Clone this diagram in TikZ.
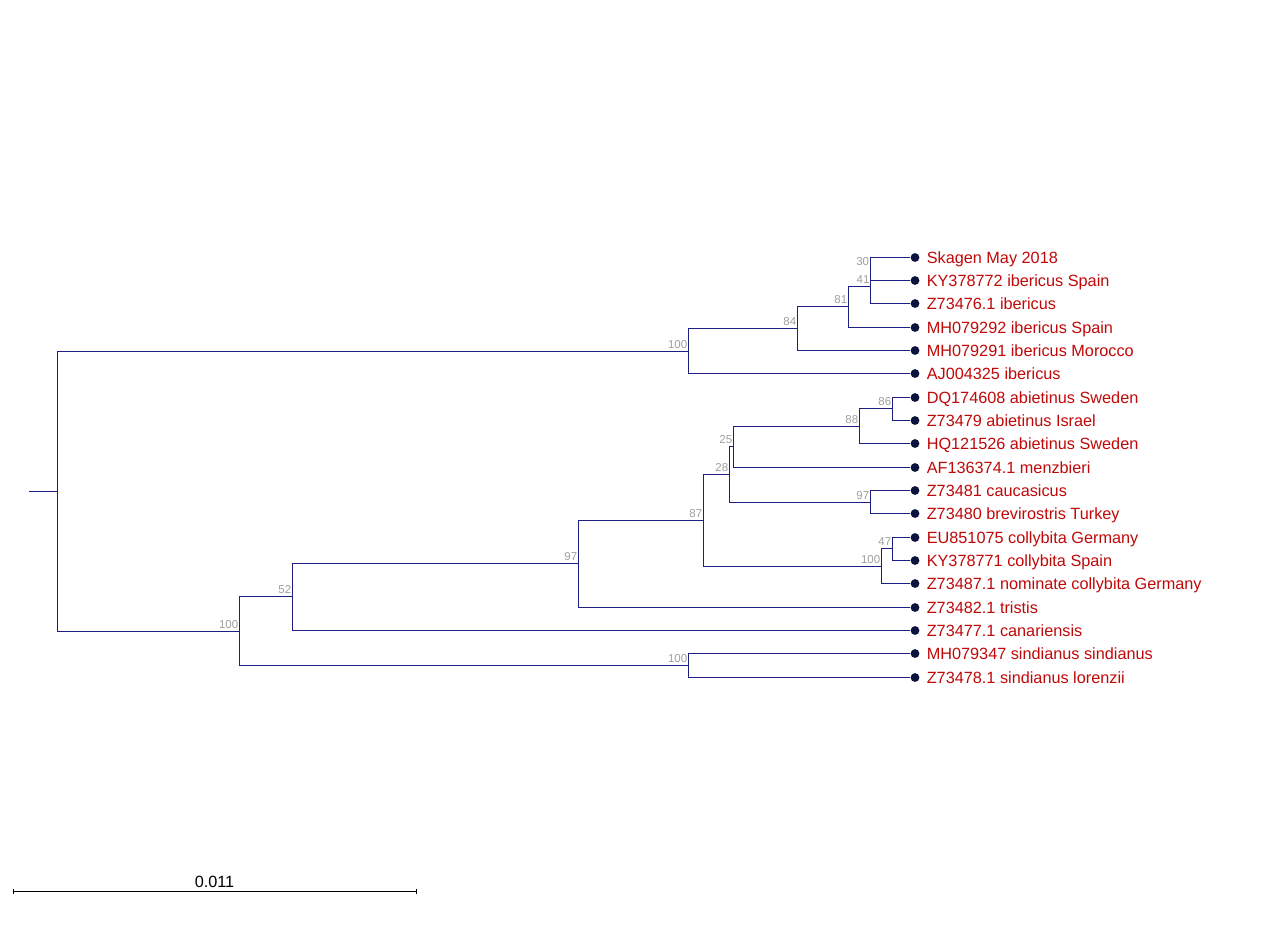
\documentclass[tikz,border=0pt]{standalone}
\usepackage{fontspec}
\setmainfont{Liberation Sans}
\usetikzlibrary{calc}
\definecolor{branch}{RGB}{30,30,130}
\definecolor{tipdot}{RGB}{12,20,62}
\definecolor{tiptext}{RGB}{192,8,8}
\definecolor{boot}{RGB}{158,158,158}
\begin{document}
\begin{tikzpicture}[x=0.75pt,y=-0.75pt,
  branchline/.style={draw=branch, line width=1.3pt},
  tipnode/.style={circle, fill=tipdot, inner sep=0pt, minimum size=6.6pt},
  taxon/.style={text=tiptext, font=\fontsize{12.2}{14}\selectfont, anchor=base west, inner sep=0pt},
  bootlabel/.style={text=boot, font=\fontsize{8.6}{10}\selectfont, anchor=base east, inner sep=0pt},
  scalebar/.style={draw=black, line width=1.2pt},
  scalelabel/.style={font=\fontsize{12.2}{14}\selectfont, anchor=base, inner sep=0pt}]
\useasboundingbox (0,0) rectangle (1280,946);

% ---- internal nodes
\coordinate (n30)   at (870.5,268.5);
\coordinate (n41)   at (870.5,286.5);
\coordinate (n81)   at (848.5,306.5);
\coordinate (n84)   at (797.5,328.5);
\coordinate (n100a) at (688.5,351.5);
\coordinate (n86)   at (892.5,408.5);
\coordinate (n88)   at (859.5,426.5);
\coordinate (n25)   at (733.5,446.5);
\coordinate (n97a)  at (870.5,502.5);
\coordinate (n28)   at (729.5,474.5);
\coordinate (n47)   at (892.5,548.5);
\coordinate (n100b) at (881.5,566.5);
\coordinate (n87)   at (703.5,520.5);
\coordinate (n97)   at (578.5,563.5);
\coordinate (n52)   at (292.5,596.5);
\coordinate (n100d) at (688.5,665.5);
\coordinate (n100c) at (239.5,631.5);
\coordinate (root)  at (57.5,491.5);
\coordinate (stub)  at (28.5,491.5);

% ---- branches (drawn before the tips)
\draw[branchline] (stub) -- (root);
\draw[branchline] (root) |- (n100a);
\draw[branchline] (root) |- (n100c);
\draw[branchline] (n100a) |- (n84);
\draw[branchline] (n84) |- (n81);
\draw[branchline] (n81) |- (n41);
\draw[branchline] (n41) |- (n30);
\draw[branchline] (n88) |- (n86);
\draw[branchline] (n25) |- (n88);
\draw[branchline] (n28) |- (n25);
\draw[branchline] (n28) |- (n97a);
\draw[branchline] (n87) |- (n28);
\draw[branchline] (n100b) |- (n47);
\draw[branchline] (n87) |- (n100b);
\draw[branchline] (n97) |- (n87);
\draw[branchline] (n52) |- (n97);
\draw[branchline] (n100c) |- (n52);
\draw[branchline] (n100c) |- (n100d);

% ---- tips
\node[tipnode] (t1)  at (915,257.5) {};
\node[tipnode] (t2)  at (915,280.5) {};
\node[tipnode] (t3)  at (915,303.5) {};
\node[tipnode] (t4)  at (915,327.5) {};
\node[tipnode] (t5)  at (915,350.5) {};
\node[tipnode] (t6)  at (915,373.5) {};
\node[tipnode] (t7)  at (915,397.5) {};
\node[tipnode] (t8)  at (915,420.5) {};
\node[tipnode] (t9)  at (915,443.5) {};
\node[tipnode] (t10) at (915,467.5) {};
\node[tipnode] (t11) at (915,490.5) {};
\node[tipnode] (t12) at (915,513.5) {};
\node[tipnode] (t13) at (915,537.5) {};
\node[tipnode] (t14) at (915,560.5) {};
\node[tipnode] (t15) at (915,583.5) {};
\node[tipnode] (t16) at (915,607.5) {};
\node[tipnode] (t17) at (915,630.5) {};
\node[tipnode] (t18) at (915,653.5) {};
\node[tipnode] (t19) at (915,677.5) {};

% ---- branches to tips
\draw[branchline] (n30) |- (t1);
\draw[branchline] (n30) |- (t2);
\draw[branchline] (n41) |- (t3);
\draw[branchline] (n81) |- (t4);
\draw[branchline] (n84) |- (t5);
\draw[branchline] (n100a) |- (t6);
\draw[branchline] (n86) |- (t7);
\draw[branchline] (n86) |- (t8);
\draw[branchline] (n88) |- (t9);
\draw[branchline] (n25) |- (t10);
\draw[branchline] (n97a) |- (t11);
\draw[branchline] (n97a) |- (t12);
\draw[branchline] (n47) |- (t13);
\draw[branchline] (n47) |- (t14);
\draw[branchline] (n100b) |- (t15);
\draw[branchline] (n97) |- (t16);
\draw[branchline] (n52) |- (t17);
\draw[branchline] (n100d) |- (t18);
\draw[branchline] (n100d) |- (t19);

% ---- taxon labels
\node[taxon] (l1)  at ($(t1)+(11.5,5.5)$)  {Skagen May 2018};
\node[taxon] (l2)  at ($(t2)+(11.5,5.5)$)  {KY378772 ibericus Spain};
\node[taxon] (l3)  at ($(t3)+(11.5,5.5)$)  {Z73476.1 ibericus};
\node[taxon] (l4)  at ($(t4)+(11.5,5.5)$)  {MH079292 ibericus Spain};
\node[taxon] (l5)  at ($(t5)+(11.5,5.5)$)  {MH079291 ibericus Morocco};
\node[taxon] (l6)  at ($(t6)+(11.5,5.5)$)  {AJ004325 ibericus};
\node[taxon] (l7)  at ($(t7)+(11.5,5.5)$)  {DQ174608 abietinus Sweden};
\node[taxon] (l8)  at ($(t8)+(11.5,5.5)$)  {Z73479 abietinus Israel};
\node[taxon] (l9)  at ($(t9)+(11.5,5.5)$)  {HQ121526 abietinus Sweden};
\node[taxon] (l10) at ($(t10)+(11.5,5.5)$) {AF136374.1 menzbieri};
\node[taxon] (l11) at ($(t11)+(11.5,5.5)$) {Z73481 caucasicus};
\node[taxon] (l12) at ($(t12)+(11.5,5.5)$) {Z73480 brevirostris Turkey};
\node[taxon] (l13) at ($(t13)+(11.5,5.5)$) {EU851075 collybita Germany};
\node[taxon] (l14) at ($(t14)+(11.5,5.5)$) {KY378771 collybita Spain};
\node[taxon] (l15) at ($(t15)+(11.5,5.5)$) {Z73487.1 nominate collybita Germany};
\node[taxon] (l16) at ($(t16)+(11.5,5.5)$) {Z73482.1 tristis};
\node[taxon] (l17) at ($(t17)+(11.5,5.5)$) {Z73477.1 canariensis};
\node[taxon] (l18) at ($(t18)+(11.5,5.5)$) {MH079347 sindianus sindianus};
\node[taxon] (l19) at ($(t19)+(11.5,5.5)$) {Z73478.1 sindianus lorenzii};

% ---- bootstrap support values
\node[bootlabel] (b30)   at ($(n30)+(-1.2,-2.6)$)   {30};
\node[bootlabel] (b41)   at ($(n41)+(-0.8,-2.6)$)   {41};
\node[bootlabel] (b81)   at ($(n81)+(-1,-2.6)$)     {81};
\node[bootlabel] (b84)   at ($(n84)+(-1,-2.6)$)     {84};
\node[bootlabel] (b100a) at ($(n100a)+(-1,-2.6)$)   {100};
\node[bootlabel] (b86)   at ($(n86)+(-1,-2.6)$)     {86};
\node[bootlabel] (b88)   at ($(n88)+(-1,-2.6)$)     {88};
\node[bootlabel] (b25)   at ($(n25)+(-1,-2.6)$)     {25};
\node[bootlabel] (b28)   at ($(n28)+(-1,-2.6)$)     {28};
\node[bootlabel] (b97a)  at ($(n97a)+(-1,-2.6)$)    {97};
\node[bootlabel] (b87)   at ($(n87)+(-1,-2.6)$)     {87};
\node[bootlabel] (b47)   at ($(n47)+(-1,-2.6)$)     {47};
\node[bootlabel] (b100b) at ($(n100b)+(-1,-2.6)$)   {100};
\node[bootlabel] (b97)   at ($(n97)+(-1,-2.6)$)     {97};
\node[bootlabel] (b52)   at ($(n52)+(-1,-2.6)$)     {52};
\node[bootlabel] (b100c) at ($(n100c)+(-1,-2.6)$)   {100};
\node[bootlabel] (b100d) at ($(n100d)+(-1,-2.6)$)   {100};

% ---- scale bar
\coordinate (sbL) at (13.5,891.5);
\coordinate (sbR) at (416.5,891.5);
\draw[scalebar] (sbL) -- (sbR);
\draw[scalebar] ($(sbL)+(0,-2.8)$) -- ($(sbL)+(0,2.8)$);
\draw[scalebar] ($(sbR)+(0,-2.8)$) -- ($(sbR)+(0,2.8)$);
\node[scalelabel] (sbtext) at ($(sbL)!0.5!(sbR)+(-0.5,-4)$) {0.011};
\end{tikzpicture}
\end{document}
